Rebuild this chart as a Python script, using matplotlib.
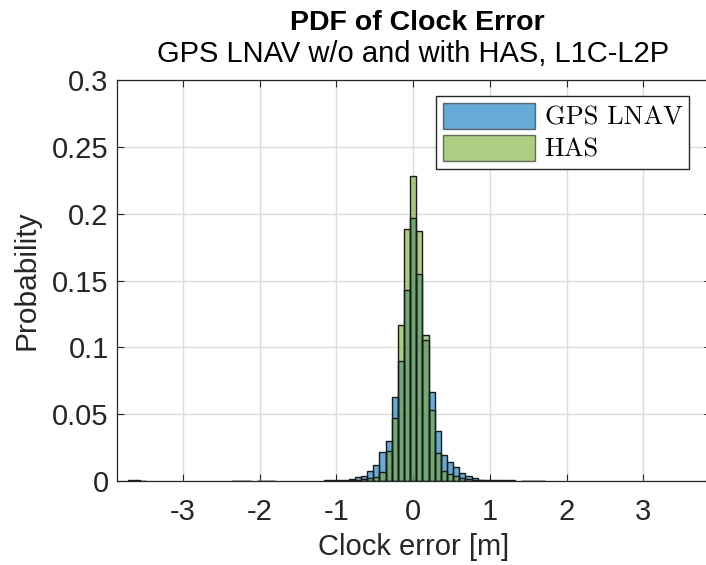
import numpy as np
import matplotlib
matplotlib.use("Agg")
import matplotlib.pyplot as plt

# ---- data (bin index k, bin width 0.08 m, centred at k*0.08) ----
bin_width = 0.08
bin_index = [-46, -45, -44, -29, -28, -27, -25, -24, -23,
             -14, -13, -12, -11, -10, -9, -8, -7, -6, -5, -4, -3, -2, -1,
             0, 1, 2, 3, 4, 5, 6, 7, 8, 9, 10, 11, 12, 13, 14, 15, 16, 18, 19, 20, 21]
gps_prob = [0.0004, 0.0004, 0.0003, 0.0003, 0.0003, 0.0002, 0.0002, 0.0002, 0.0002,
            0.0004, 0.0005, 0.0006, 0.0008, 0.0015, 0.0027, 0.0040, 0.0077, 0.0118, 0.0218, 0.0298, 0.0626, 0.0898, 0.143,
            0.197, 0.155, 0.1055, 0.0663, 0.0372, 0.0192, 0.0140, 0.0102, 0.0060, 0.0036, 0.0022, 0.0010, 0.0007, 0.0005, 0.0005, 0.0004, 0.0004, 0.0003, 0.0003, 0.0003, 0.0003]
has_prob = [0.0, 0.0, 0.0, 0.0, 0.0, 0.0, 0.0, 0.0, 0.0,
            0.0001, 0.0001, 0.0002, 0.0003, 0.0005, 0.0008, 0.0012, 0.0020, 0.0032, 0.0065, 0.0223, 0.0469, 0.1165, 0.1885,
            0.228, 0.187, 0.109, 0.0531, 0.0207, 0.0072, 0.0050, 0.0035, 0.0025, 0.0015, 0.0008, 0.0004, 0.0003, 0.0002, 0.0001, 0.0, 0.0, 0.0, 0.0, 0.0, 0.0]
series_labels = ["GPS LNAV", "HAS"]
title_main = "PDF of Clock Error"
title_sub = "GPS LNAV w/o and with HAS, L1C-L2P"
xlabel = "Clock error [m]"
ylabel = "Probability"
xticks = [-3, -2, -1, 0, 1, 2, 3]
yticks = [0, 0.05, 0.1, 0.15, 0.2, 0.25, 0.3]
ytick_labels = ["0", "0.05", "0.1", "0.15", "0.2", "0.25", "0.3"]

plt.rcParams["font.family"] = ["Liberation Sans", "DejaVu Sans"]
plt.rcParams["axes.unicode_minus"] = False

blue = (0.0, 0.447, 0.741)
green = (0.466, 0.674, 0.188)

fig = plt.figure(figsize=(7.06, 5.65), dpi=100)
ax = fig.add_axes([117/706, 1 - 481/565, 594/706, 401/565])

centers = np.array(bin_index) * bin_width
ax.bar(centers, gps_prob, width=bin_width, color=blue, alpha=0.6,
       edgecolor="none", label=series_labels[0], zorder=2)
ax.bar(centers, has_prob, width=bin_width, color=green, alpha=0.6,
       edgecolor="none", label=series_labels[1], zorder=3)
ax.bar(centers, gps_prob, width=bin_width, fill=False, edgecolor="#1a1a1a",
       linewidth=1.0, zorder=4)
ax.bar(centers, has_prob, width=bin_width, fill=False, edgecolor="#1a1a1a",
       linewidth=1.0, zorder=4)

ax.set_xlim(-3.86, 3.88)
ax.set_ylim(0, 0.3)
ax.set_xticks(xticks)
ax.set_xticklabels([str(t) for t in xticks])
ax.set_yticks(yticks)
ax.set_yticklabels(ytick_labels)
ax.tick_params(direction="in", length=5, width=0.8, labelsize=21, colors="#262626",
               top=True, right=True)
ax.tick_params(axis="x", pad=12)
ax.tick_params(axis="y", pad=6)
ax.grid(True, color="#dcdcdc", linewidth=1.0, zorder=0)
ax.set_axisbelow(True)
for s in ax.spines.values():
    s.set_color("#262626")
    s.set_linewidth(0.9)

ax.set_xlabel(xlabel, fontsize=21, color="#262626", labelpad=5)
ax.set_ylabel(ylabel, fontsize=21.5, color="#262626", labelpad=8)

fig.text(0.591, 1 - 23/565, title_main, ha="center", va="center",
         fontsize=20.5, fontweight="bold", color="black")
fig.text(0.585, 1 - 54/565, title_sub, ha="center", va="center",
         fontsize=21, color="black")

leg = ax.legend(loc="upper right", bbox_to_anchor=(0.963, 0.96), prop={"family": "cmr10", "size": 19},
                frameon=True, fancybox=False, edgecolor="#262626", framealpha=1,
                handlelength=3.5, handleheight=1.15, handletextpad=0.35,
                borderpad=0.25, labelspacing=0.2, borderaxespad=0)
leg.get_frame().set_linewidth(1.0)
for h in leg.legend_handles:
    h.set_edgecolor("#1a1a1a")
    h.set_linewidth(1.0)

fig.savefig("out.png", dpi=100)
